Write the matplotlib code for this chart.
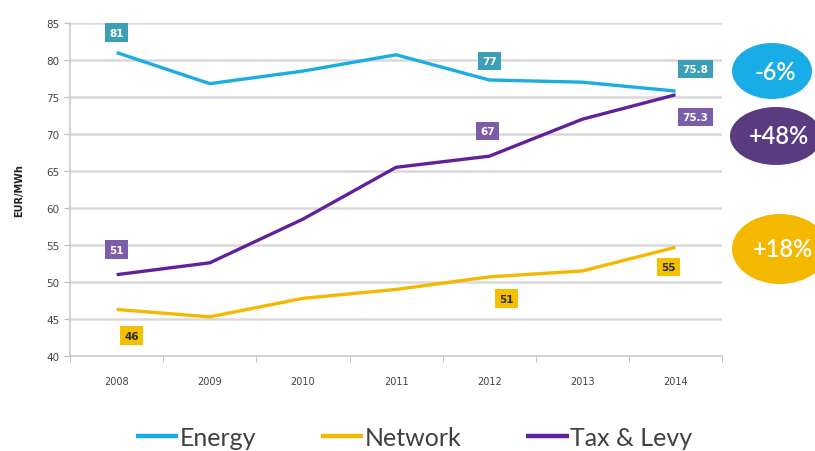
import matplotlib.pyplot as plt
from matplotlib.patches import Ellipse

years = ['2008', '2009', '2010', '2011', '2012', '2013', '2014']
energy = [81.0, 76.8, 78.5, 80.7, 77.3, 77.0, 75.8]
network = [46.3, 45.3, 47.8, 49.0, 50.7, 51.5, 54.7]
tax_levy = [51.0, 52.6, 58.5, 65.5, 67.0, 72.0, 75.3]

energy_labels = {0: '81', 4: '77', 6: '75.8'}
network_labels = {0: '46', 4: '51', 6: '55'}
tax_labels = {0: '51', 4: '67', 6: '75.3'}

changes = ['-6%', '+48%', '+18%']

c_energy = '#1AACE3'
c_network = '#F5B800'
c_tax = '#62209C'

fig = plt.figure(figsize=(8.15, 4.52), dpi=100)
ax = fig.add_axes([0.086, 0.21, 0.80, 0.737])

x = range(len(years))
ax.plot(x, energy, color=c_energy, lw=2.4, label='Energy', solid_capstyle='butt')
ax.plot(x, network, color=c_network, lw=2.4, label='Network', solid_capstyle='butt')
ax.plot(x, tax_levy, color=c_tax, lw=2.4, label='Tax & Levy', solid_capstyle='butt')

ax.set_xlim(-0.5, 6.5)
ax.set_ylim(40, 85)
ax.set_yticks(range(40, 90, 5))
ax.set_xticks(list(x))
ax.set_xticklabels(years)
ax.set_xticks([i + 0.5 for i in range(-1, 7)], minor=True)
ax.tick_params(axis='x', which='major', length=0, labelsize=7, colors='#444444', pad=14)
ax.tick_params(axis='x', which='minor', length=4, color='#BBBBBB')
ax.tick_params(axis='y', length=4, color='#BBBBBB', labelsize=7.5, colors='#444444')
ax.grid(axis='y', color='#D9D9D9', lw=1.8)
ax.set_axisbelow(True)
for s in ['top', 'right']:
    ax.spines[s].set_visible(False)
for s in ['left', 'bottom']:
    ax.spines[s].set_color('#CCCCCC')
    ax.spines[s].set_linewidth(1.2)
ax.set_ylabel('EUR/MWh', fontsize=7, fontweight='bold', labelpad=16, color='#222222')


def value_box(i, v, dx, dy, face, tc):
    ax.annotate(v, (i, float(v)), xytext=(dx, dy), textcoords='offset pixels',
                ha='center', va='center', fontsize=7.5, color=tc, fontweight='bold',
                bbox=dict(boxstyle='square,pad=0.4', fc=face, ec='none'),
                annotation_clip=False)


box_offsets_energy = {0: (0, 20), 4: (0, 21), 6: (20, 22)}
box_offsets_network = {0: (15, -24), 4: (17, -24), 6: (-7, -22)}
box_offsets_tax = {0: (0, 25), 4: (-2, 25), 6: (20, -22)}

for i, v in energy_labels.items():
    value_box(i, v, *box_offsets_energy[i], '#3C9FB6', 'white')
for i, v in network_labels.items():
    value_box(i, v, *box_offsets_network[i], '#F4C000', '#2B2B2B')
for i, v in tax_labels.items():
    value_box(i, v, *box_offsets_tax[i], '#7C5DA9', 'white')

# change badges on the right-hand side
W, H = 815, 452
badges = [(772, 72, 80, 56, '#19ADE8'),
          (776, 137, 92, 58, '#5A3A80'),
          (780, 250, 96, 70, '#F5B800')]
for (cx, cy, w, h, col), txt in zip(badges, changes):
    fig.patches.append(Ellipse((cx / W, 1 - cy / H), w / W, h / H,
                               transform=fig.transFigure, fc=col, ec='none'))
    fig.text(cx / W + 0.004, 1 - cy / H, txt, ha='center', va='center',
             color='white', fontsize=17, family='Lato', fontweight='semibold')

leg = fig.legend(loc='lower center', bbox_to_anchor=(0.508, -0.045), ncol=3, frameon=False,
                 prop={'family': 'Lato', 'size': 18}, handlelength=1.7,
                 handletextpad=0.05, columnspacing=2.6)
for t in leg.get_texts():
    t.set_color('#404040')
for h in leg.legend_handles:
    h.set_linewidth(3.2)

fig.savefig('out.png', dpi=100)
